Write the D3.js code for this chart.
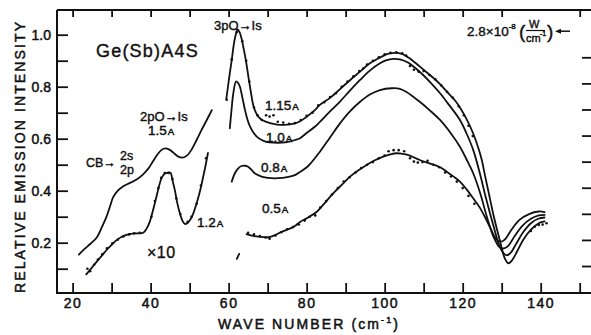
<!DOCTYPE html>
<html>
<head>
<meta charset="utf-8">
<script src="https://cdn.jsdelivr.net/npm/d3@7"></script>
<style>
  body { margin: 0; background: #fff; }
  svg text { font-family: "Liberation Sans", Arial, sans-serif; fill: #111; }
</style>
</head>
<body>
<svg id="chart" width="591" height="335"></svg>
<script>
// tick values
var xTicks = [20, 30, 40, 50, 60, 70, 80, 90, 100, 110, 120, 130, 140, 150];
var xLabels = [20, 40, 60, 80, 100, 120, 140];
var topTicks = [20, 30, 40, 50, 60, 70, 80, 90, 100, 110, 120, 130, 150];
var yTicks = [0.1, 0.2, 0.3, 0.4, 0.5, 0.6, 0.7, 0.8, 0.9, 1.0];
var yLabels = [0.2, 0.4, 0.6, 0.8, 1.0];
var rightTicks = [0.1, 0.2, 0.3, 0.4, 0.5, 0.6, 0.7, 0.8, 0.9];

// curves: [wave number, intensity]
var curve15 = [[21.6,0.154],[23,0.175],[24.5,0.195],[26.2,0.22],[27.5,0.26],[28.7,0.30],[29.6,0.34],[30.4,0.375],[31.6,0.40],[33,0.417],[34.7,0.43],[36.4,0.443],[38,0.462],[39.5,0.487],[40.7,0.515],[41.8,0.54],[42.8,0.557],[43.8,0.563],[44.8,0.558],[45.8,0.547],[47,0.532],[48.2,0.527],[49.3,0.535],[50.5,0.558],[51.8,0.595],[53,0.632],[54.4,0.672],[55.7,0.71]];

var curve12 = [[23.5,0.078],[25,0.105],[26.2,0.127],[27.5,0.15],[28.7,0.172],[30,0.192],[31.3,0.21],[32.5,0.222],[33.8,0.23],[35,0.234],[36.4,0.236],[38.1,0.238],[39,0.255],[39.8,0.281],[40.7,0.33],[41.5,0.377],[42.2,0.42],[42.8,0.448],[43.5,0.464],[44.1,0.469],[45.1,0.469],[45.6,0.44],[46.2,0.403],[46.8,0.355],[47.5,0.313],[48.2,0.283],[48.8,0.272],[49.4,0.275],[50.1,0.287],[51,0.315],[51.8,0.352],[52.6,0.395],[53.3,0.441],[54,0.49],[54.7,0.545]];
var dots12 = [[23.8,0.10],[24.5,0.09],[25.5,0.115],[26.5,0.135],[27.6,0.155],[28.8,0.178],[30.2,0.198],[31.6,0.212],[33,0.224],[34.5,0.232],[35.8,0.236],[37.2,0.238],[40.2,0.30],[41.1,0.36],[42.0,0.41],[42.7,0.45],[43.6,0.468],[44.6,0.468],[45.6,0.445],[46.6,0.37],[47.6,0.31],[49.5,0.28],[50.5,0.30],[51.8,0.35],[52.9,0.42],[54.2,0.525]];

var curve115 = [[59.4,0.752],[60.1,0.83],[60.8,0.903],[61.3,0.96],[61.8,0.999],[62.3,1.02],[62.8,1.01],[63.3,0.986],[63.8,0.95],[64.4,0.903],[65.2,0.826],[65.8,0.77],[66.3,0.73],[67,0.70],[67.6,0.685],[68.6,0.672],[69.7,0.665],[71.5,0.657],[73.2,0.653],[75,0.654],[77,0.659],[78.3,0.667],[79.6,0.68],[82.1,0.71],[83.4,0.73],[86,0.757],[88.5,0.79],[91.1,0.825],[93.7,0.858],[96.2,0.89],[98.8,0.912],[101,0.927],[103.1,0.93],[104.8,0.924],[106.1,0.912],[108,0.89],[110,0.865],[112,0.84],[114.2,0.81],[116,0.78],[118,0.748],[119.3,0.72],[121,0.675],[122.7,0.62],[124,0.565],[124.9,0.518],[125.7,0.46],[126.7,0.39],[128,0.30],[129.5,0.21],[130.8,0.14],[131.7,0.121],[132.7,0.133],[134,0.168],[135.5,0.21],[137.5,0.25],[139.5,0.275],[141,0.282]];
var dots115 = [[59.5,0.75],[60.8,0.905],[62.1,1.01],[63.5,0.975],[64.5,0.9],[65.3,0.82],[66.5,0.72],[67.4,0.69],[68.5,0.672],[69.6,0.69],[70.5,0.685],[71.5,0.69],[72.6,0.665],[74,0.662],[75.5,0.657],[77,0.66],[78.5,0.672],[80,0.688],[81.5,0.70],[83,0.728],[84.5,0.74],[86,0.76],[87.5,0.775],[89,0.80],[90.5,0.82],[92,0.84],[93.5,0.86],[94.5,0.87],[95.5,0.885],[97,0.9],[98.5,0.913],[100,0.925],[101.5,0.93],[103,0.932],[104.5,0.928],[105.5,0.92],[106.5,0.88],[107.5,0.865],[108.7,0.858],[110,0.86],[111.5,0.845],[113,0.828],[114.5,0.805],[116,0.78],[117.5,0.757],[119,0.725],[120.3,0.69],[121.5,0.65],[122.6,0.61],[137.5,0.245],[138.5,0.262],[139.5,0.268],[140.5,0.27],[141.5,0.275]];

var curve10 = [[60.3,0.64],[60.8,0.72],[61.2,0.775],[61.9,0.82],[62.4,0.815],[62.9,0.80],[63.5,0.76],[64.2,0.71],[64.8,0.675],[65.5,0.646],[66.3,0.625],[67.2,0.608],[68.5,0.595],[69.7,0.588],[71.5,0.585],[73.6,0.585],[75.5,0.589],[77,0.595],[78.3,0.602],[80,0.622],[82.1,0.646],[83.4,0.665],[86,0.705],[88.5,0.742],[91.1,0.785],[93.7,0.826],[96.2,0.862],[98.8,0.89],[100.5,0.902],[102.2,0.907],[103.9,0.905],[106.1,0.892],[108,0.87],[110,0.843],[112,0.812],[114.2,0.775],[116.5,0.73],[119.3,0.672],[121,0.62],[122.7,0.557],[124.4,0.467],[126,0.37],[127.8,0.27],[129.5,0.185],[130.8,0.155],[131.5,0.152],[132.5,0.165],[133.8,0.198],[135.5,0.24],[137.5,0.275],[139.5,0.293],[141,0.297]];

var curve08 = [[60.8,0.435],[61.6,0.467],[62.4,0.485],[63.3,0.495],[64.2,0.496],[65,0.492],[66,0.478],[66.7,0.467],[68,0.457],[69.3,0.451],[71,0.448],[72.7,0.448],[75,0.452],[77,0.46],[78.3,0.472],[80.4,0.495],[83.4,0.55],[86,0.605],[88.5,0.658],[91.1,0.705],[93.7,0.742],[96.2,0.77],[98.8,0.787],[101.8,0.794],[103.9,0.792],[105.6,0.78],[109,0.742],[111.5,0.71],[114.2,0.672],[117,0.62],[119.3,0.569],[121,0.52],[122.7,0.467],[124.5,0.39],[126.2,0.3],[128,0.22],[129.5,0.182],[130.6,0.178],[131.8,0.19],[133.3,0.225],[135.3,0.265],[137.5,0.292],[139.5,0.305],[141,0.307]];

var curve05 = [[64.6,0.233],[66,0.227],[67.6,0.223],[70.2,0.221],[72,0.23],[73.6,0.242],[75.5,0.253],[77,0.264],[78.3,0.28],[80.4,0.297],[82.6,0.319],[84.5,0.35],[86.8,0.39],[89,0.422],[91.1,0.454],[93.2,0.478],[95.4,0.499],[97.5,0.517],[99.6,0.531],[101.5,0.54],[103.1,0.544],[104.5,0.542],[106.1,0.537],[109,0.518],[111.5,0.505],[114.2,0.49],[116,0.472],[117.6,0.455],[119.3,0.435],[121,0.405],[122.5,0.375],[124.4,0.335],[126,0.29],[127.3,0.25],[128.5,0.215],[129.7,0.204],[130.8,0.212],[132.5,0.25],[134.5,0.287],[137,0.31],[139.5,0.32],[141,0.318]];
var dots05 = [[65,0.238],[66.5,0.232],[68,0.226],[69.5,0.22],[70.5,0.215],[72,0.228],[73.5,0.24],[75,0.252],[76.5,0.26],[78,0.27],[79.5,0.285],[80.8,0.3],[82.2,0.305],[83.5,0.335],[85,0.36],[86.5,0.385],[88,0.41],[89.5,0.435],[91,0.452],[92.5,0.47],[94,0.487],[95.5,0.5],[97,0.51],[98.5,0.525],[100,0.535],[101,0.552],[102.3,0.556],[103.6,0.556],[105,0.552],[106.5,0.525],[107.5,0.512],[108.5,0.508],[109.7,0.51],[111,0.515],[112.5,0.5],[114,0.49],[115.5,0.47],[117,0.455],[118.5,0.435],[120,0.41],[121.5,0.38],[123,0.35]];

var fragment = [[62.1,0.138],[62.7,0.157]];

var svg = d3.select("#chart");
var x = d3.scaleLinear().domain([16, 152.9]).range([57, 591]);
var y = d3.scaleLinear().domain([0, 1]).range([294.7, 34.7]);
var yRight = d3.scaleLinear().domain([0, 1]).range([292.1, 31.2]);
var yTop = 10, yBottom = 293;

// frame
svg.append("path")
    .attr("d", "M" + x(16) + "," + yTop + "H591M" + x(16) + "," + yTop + "V" + yBottom + "H591")
    .attr("fill", "none").attr("stroke", "#111").attr("stroke-width", 2);

function styleAxis(g) {
    g.select(".domain").remove();
    g.selectAll(".tick line").attr("stroke", "#111").attr("stroke-width", 1.8);
    g.selectAll("text").attr("font-family", "Liberation Sans, Arial, sans-serif")
        .attr("font-size", 14).attr("fill", "#111").attr("stroke", "#111").attr("stroke-width", 0.5);
}

svg.append("g").attr("transform", "translate(0," + yBottom + ")")
    .call(d3.axisBottom(x).tickValues(xTicks).tickSizeInner(-10).tickSizeOuter(0).tickPadding(5)
        .tickFormat(function (d) { return xLabels.indexOf(d) >= 0 ? d : ""; }))
    .call(styleAxis)
    .selectAll("text").attr("letter-spacing", 1.5);

svg.append("g").attr("transform", "translate(0," + yTop + ")")
    .call(d3.axisBottom(x).tickValues(topTicks).tickSize(7).tickFormat(""))
    .call(styleAxis);

svg.append("g").attr("transform", "translate(" + x(16) + ",0)")
    .call(d3.axisLeft(y).tickValues(yTicks).tickSizeInner(-11).tickSizeOuter(0).tickPadding(6)
        .tickFormat(function (d) {
            return yLabels.some(function (v) { return Math.abs(v - d) < 1e-9; }) ? d.toFixed(1) : "";
        }))
    .call(styleAxis);

svg.append("g").attr("transform", "translate(582,0)")
    .call(d3.axisRight(yRight).tickValues(rightTicks).tickSize(9).tickFormat(""))
    .call(styleAxis);

// curves
var line = d3.line()
    .x(function (d) { return x(d[0]); })
    .y(function (d) { return y(d[1]); })
    .curve(d3.curveCatmullRom.alpha(0.5));

[curve15, curve12, curve115, curve10, curve08, curve05, fragment].forEach(function (c) {
    svg.append("path").attr("d", line(c))
        .attr("fill", "none").attr("stroke", "#111").attr("stroke-width", 1.8)
        .attr("stroke-linejoin", "round").attr("stroke-linecap", "round");
});

[dots12, dots115, dots05].forEach(function (ds) {
    svg.selectAll(null).data(ds).enter().append("circle")
        .attr("cx", function (d) { return x(d[0]); })
        .attr("cy", function (d) { return y(d[1]); })
        .attr("r", 1.3).attr("fill", "#111");
});

// labels
function ampLabel(num, px, py, size) {
    var t = svg.append("text").attr("x", px).attr("y", py).attr("font-size", size)
        .attr("stroke", "#111").attr("stroke-width", 0.45);
    t.append("tspan").text(num);
    t.append("tspan").attr("font-size", size * 0.72).attr("dx", 1).text("A");
}
ampLabel("1.15", 265, 110, 13.5);
ampLabel("1.0", 266, 142, 13.5);
ampLabel("0.8", 261, 172, 13.5);
ampLabel("0.5", 262, 213, 13.5);
ampLabel("1.2", 197, 227, 13.5);
ampLabel("1.5", 148, 135, 13.5);

function plain(txt, px, py, size, spacing) {
    var t = svg.append("text").attr("x", px).attr("y", py).attr("font-size", size)
        .attr("stroke", "#111").attr("stroke-width", 0.4).text(txt);
    if (spacing) t.attr("letter-spacing", spacing);
    return t;
}
plain("Ge(Sb)A4S", 96, 57, 18, 1.2);
plain("3pO\u2192Is", 214, 30, 13);
plain("2pO\u2192Is", 140, 121, 13);
plain("\u00d710", 147, 258, 16, 0.5);
plain("CB\u2192", 86, 167, 12.5);
plain("2s", 120, 160, 12.5);
plain("2p", 120, 174, 12.5);

// right scale annotation
var unit = plain("2.8\u00d710", 467, 36, 13.5);
unit.append("tspan").attr("font-size", 8).attr("dy", -7).text("-8");
plain("(", 519, 38, 19);
plain("W", 529, 28, 11);
plain("cm", 526, 42, 11);
plain("-1", 540, 36, 7);
svg.append("line").attr("x1", 526).attr("x2", 545).attr("y1", 30.5).attr("y2", 30.5)
    .attr("stroke", "#111").attr("stroke-width", 1.2);
plain(")", 547, 38, 19);
svg.append("line").attr("x1", 558).attr("x2", 570).attr("y1", yRight(1)).attr("y2", yRight(1))
    .attr("stroke", "#111").attr("stroke-width", 1.5);
svg.append("path").attr("d", "M555," + yRight(1) + "l6,-2.5v5z").attr("fill", "#111");

// axis titles
var xt = svg.append("text").attr("x", 218).attr("y", 329).attr("font-size", 14)
    .attr("stroke", "#111").attr("stroke-width", 0.5)
    .attr("textLength", 180).attr("lengthAdjust", "spacing");
xt.append("tspan").text("WAVE NUMBER (cm");
xt.append("tspan").attr("font-size", 9).attr("dy", -6).text("-1");
xt.append("tspan").attr("dy", 6).text(")");

svg.append("text").attr("transform", "rotate(-90)")
    .attr("x", -293).attr("y", 25).attr("font-size", 14)
    .attr("stroke", "#111").attr("stroke-width", 0.5)
    .attr("textLength", 271).attr("lengthAdjust", "spacing")
    .text("RELATIVE EMISSION INTENSITY");
</script>
</body>
</html>
